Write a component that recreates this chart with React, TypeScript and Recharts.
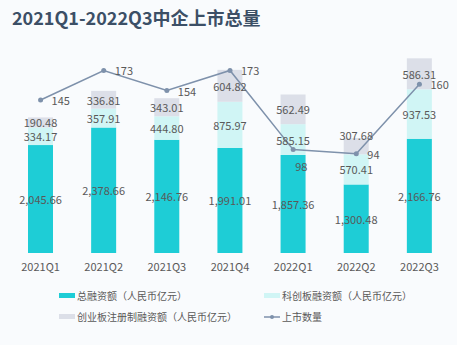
import { ComposedChart, Bar, Line, XAxis, YAxis, LabelList, Legend } from "recharts";

const quarters = ["2021Q1", "2021Q2", "2021Q3", "2021Q4", "2022Q1", "2022Q2", "2022Q3"];
const totalFinancing = [2045.66, 2378.66, 2146.76, 1991.01, 1857.36, 1300.48, 2166.76];
const starFinancing = [334.17, 357.91, 444.8, 875.97, 585.15, 570.41, 937.53];
const chinextFinancing = [190.48, 336.81, 343.01, 604.82, 562.49, 307.68, 586.31];
const listingCount = [145, 173, 154, 173, 98, 94, 160];

const seriesNames = [
  "总融资额（人民币亿元）",
  "科创板融资额（人民币亿元）",
  "创业板注册制融资额（人民币亿元）",
  "上市数量",
];

const C = {
  bg: "#f9fbfd",
  title: "#3c4f66",
  text: "#595959",
  total: "#1ecdd6",
  star: "#d0f5f5",
  chinext: "#dcdfe8",
  line: "#7e91ab",
};

const FONT = '"Noto Sans CJK SC", "Noto Sans", sans-serif';

const data = quarters.map((q, i) => ({
  quarter: q,
  total: totalFinancing[i],
  star: starFinancing[i],
  chinext: chinextFinancing[i],
  count: listingCount[i],
}));

const fmt = (v: number) =>
  v.toLocaleString("en-US", { minimumFractionDigits: 2, maximumFractionDigits: 2 });

// segment labels sit in the middle, a couple get nudged like the original
function segLabel(shiftIdx?: number, shift = 0) {
  return (props: any) => {
    const { x, y, width, height, value, index } = props;
    const dy = index === shiftIdx ? shift : 0;
    return (
      <text
        x={x + width / 2}
        y={y + height / 2 + dy}
        textAnchor="middle"
        dominantBaseline="central"
        fill={C.text}
        fontSize={11}
        fontFamily={FONT}
      >
        {fmt(value)}
      </text>
    );
  };
}

function countLabel(props: any) {
  const { x, y, value, index } = props;
  const below = index === 4;
  return (
    <text
      x={x + (below ? 2 : 11)}
      y={y + (below ? 16 : 0)}
      dominantBaseline="central"
      fill={C.text}
      fontSize={11}
      fontFamily={FONT}
    >
      {value}
    </text>
  );
}

function LegendBox() {
  const item = (i: number) => {
    const icon =
      i === 3 ? (
        <svg width={16} height={6} style={{ marginRight: 2 }}>
          <line x1={0} y1={3} x2={16} y2={3} stroke={C.line} strokeWidth={1.5} />
          <circle cx={8} cy={3} r={2} fill={C.line} />
        </svg>
      ) : (
        <span
          style={{
            display: "inline-block",
            width: 16,
            height: 5,
            marginRight: 2,
            background: [C.total, C.star, C.chinext][i],
          }}
        />
      );
    return (
      <div key={i} style={{ display: "flex", alignItems: "center", height: 21 }}>
        {icon}
        <span style={{ fontSize: 10, color: C.text, fontFamily: FONT }}>{seriesNames[i]}</span>
      </div>
    );
  };
  return (
    <div
      style={{
        height: 44,
        display: "grid",
        gridTemplateColumns: "205px 180px",
        paddingLeft: 50,
        paddingTop: 2,
        boxSizing: "border-box",
      }}
    >
      {item(0)}
      {item(1)}
      {item(2)}
      {item(3)}
    </div>
  );
}

export default function App() {
  return (
    <div style={{ position: "absolute", left: 0, top: 0, width: 469, height: 345, background: "#fff" }}>
      <div style={{ position: "absolute", left: 0, top: 0, width: 457, height: 345, background: C.bg }} />
      <div
        style={{
          position: "absolute",
          left: 12,
          top: 6,
          fontSize: 18,
          fontWeight: 700,
          color: C.title,
          fontFamily: FONT,
          lineHeight: "22px",
        }}
      >
        2021Q1-2022Q3中企上市总量
      </div>
      <div style={{ position: "absolute", left: 0, top: 0 }}>
        <ComposedChart
          width={457}
          height={345}
          data={data}
          margin={{ top: 42, right: 6, bottom: 18, left: 9 }}
          style={{ fontFamily: FONT }}
        >
          <XAxis
            dataKey="quarter"
            axisLine={false}
            tickLine={false}
            interval={0}
            tickMargin={4}
            tick={{ fill: C.text, fontSize: 11 }}
          />
          <YAxis yAxisId="amt" hide domain={[0, 4000]} />
          <YAxis yAxisId="count" hide orientation="right" domain={[0, 200]} />
          <Legend verticalAlign="bottom" content={<LegendBox />} />
          <Bar yAxisId="amt" dataKey="total" stackId="a" fill={C.total} barSize={25} isAnimationActive={false}>
            <LabelList dataKey="total" content={segLabel()} />
          </Bar>
          <Bar yAxisId="amt" dataKey="star" stackId="a" fill={C.star} barSize={25} isAnimationActive={false}>
            <LabelList dataKey="star" content={segLabel()} />
          </Bar>
          <Bar yAxisId="amt" dataKey="chinext" stackId="a" fill={C.chinext} barSize={25} isAnimationActive={false}>
            <LabelList dataKey="chinext" content={segLabel(5, -11)} />
          </Bar>
          <Line
            yAxisId="count"
            dataKey="count"
            type="linear"
            stroke={C.line}
            strokeWidth={1.5}
            dot={{ r: 2.5, fill: C.line, stroke: C.line, strokeWidth: 0 }}
            isAnimationActive={false}
          >
            <LabelList dataKey="count" content={countLabel} />
          </Line>
        </ComposedChart>
      </div>
    </div>
  );
}
